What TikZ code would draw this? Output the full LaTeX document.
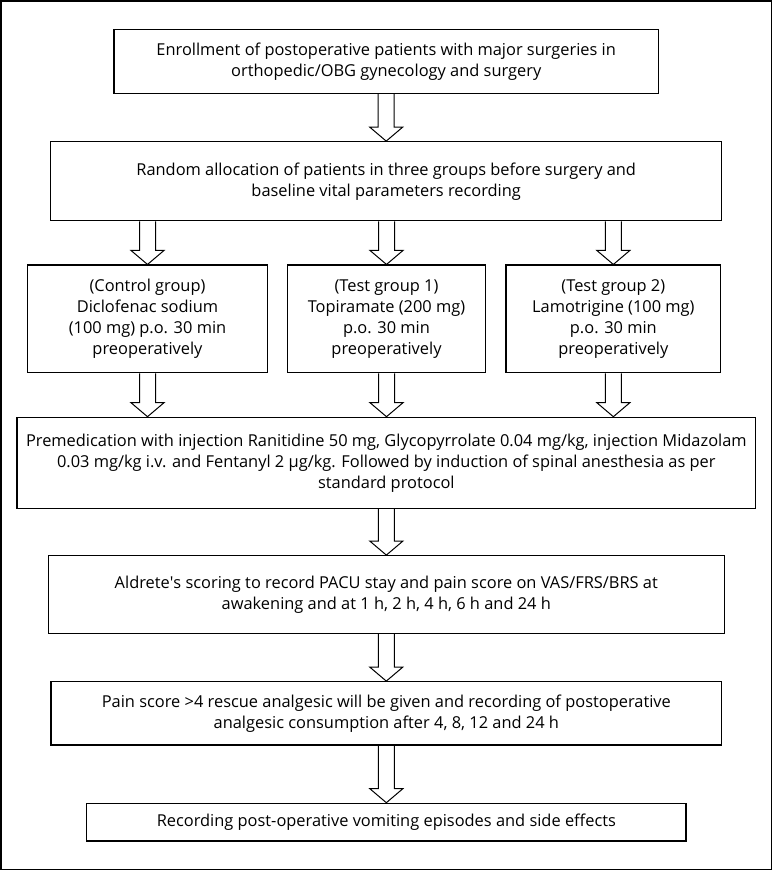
\documentclass[tikz,border=0pt]{standalone}
\usepackage{fontspec}
\setmainfont{Open Sans}
\usetikzlibrary{calc}
\tikzset{
  box/.style={draw=black, line width=1.2pt, inner sep=0pt, align=center,
    font=\fontsize{16.4}{21}\selectfont},
  arrowline/.style={draw=black, line width=1pt, line join=miter}
}
\newcommand{\blkarrow}[2]{%
  \draw[arrowline] let \p1=(#1), \p2=(#2) in
    (\x1-8pt,\y1) -- (\x1-8pt,\y2+14pt) -- (\x1-16.5pt,\y2+14pt) -- (\x1,\y2)
    -- (\x1+16.5pt,\y2+14pt) -- (\x1+8pt,\y2+14pt) -- (\x1+8pt,\y1);}
\begin{document}
\begin{tikzpicture}[x=1pt,y=-1pt]
\useasboundingbox (0,0) rectangle (773,871);
\draw[line width=1.2pt] (1,1) rectangle (771.5,869.5);
\node[box, minimum width=544.3pt, minimum height=64pt] (b1) at (386.2,61.3)
  {Enrollment of postoperative patients with major surgeries in\\orthopedic/OBG gynecology and surgery};
\node[box, minimum width=671pt, minimum height=79pt] (b2) at (386.2,181.2)
  {Random allocation of patients in three groups before surgery and\\baseline vital parameters recording};
\node[box, minimum width=239.6pt, minimum height=107.7pt] (r1) at (147.5,318.9)
  {(Control group)\\Diclofenac sodium\\(100 mg) p.o. 30 min\\preoperatively};
\node[box, minimum width=198.4pt, minimum height=107.7pt] (r2) at (386.5,318.9)
  {(Test group 1)\\Topiramate (200 mg)\\p.o. 30 min\\preoperatively};
\node[box, minimum width=214.7pt, minimum height=107.7pt] (r3) at (613.35,318.9)
  {(Test group 2)\\Lamotrigine (100 mg)\\p.o. 30 min\\preoperatively};
\node[box, minimum width=738.7pt, minimum height=91pt] (pm) at (386.35,462.8)
  {Premedication with injection Ranitidine 50 mg, Glycopyrrolate 0.04 mg/kg, injection Midazolam\\0.03 mg/kg i.v. and Fentanyl 2 µg/kg. Followed by induction of spinal anesthesia as per\\standard protocol};
\node[box, minimum width=676pt, minimum height=77.6pt] (al) at (386.3,594.5)
  {Aldrete\textquotesingle s scoring to record PACU stay and pain score on VAS/FRS/BRS at\\awakening and at 1 h, 2 h, 4 h, 6 h and 24 h};
\node[box, minimum width=670.7pt, minimum height=63.3pt] (pn) at (386.35,713.35)
  {Pain score >4 rescue analgesic will be given and recording of postoperative\\analgesic consumption after 4, 8, 12 and 24 h};
\node[box, minimum width=599.3pt, minimum height=37.7pt] (rc) at (386.35,822.15)
  {Recording post-operative vomiting episodes and side effects};
\blkarrow{b1.south}{b2.north}
\blkarrow{b2.south -| r1.north}{r1.north}
\blkarrow{b2.south -| r2.north}{r2.north}
\blkarrow{b2.south -| r3.north}{r3.north}
\blkarrow{r1.south}{pm.north -| r1.south}
\blkarrow{r2.south}{pm.north -| r2.south}
\blkarrow{r3.south}{pm.north -| r3.south}
\blkarrow{pm.south}{al.north}
\blkarrow{al.south}{pn.north}
\blkarrow{pn.south}{rc.north}
\end{tikzpicture}
\end{document}
